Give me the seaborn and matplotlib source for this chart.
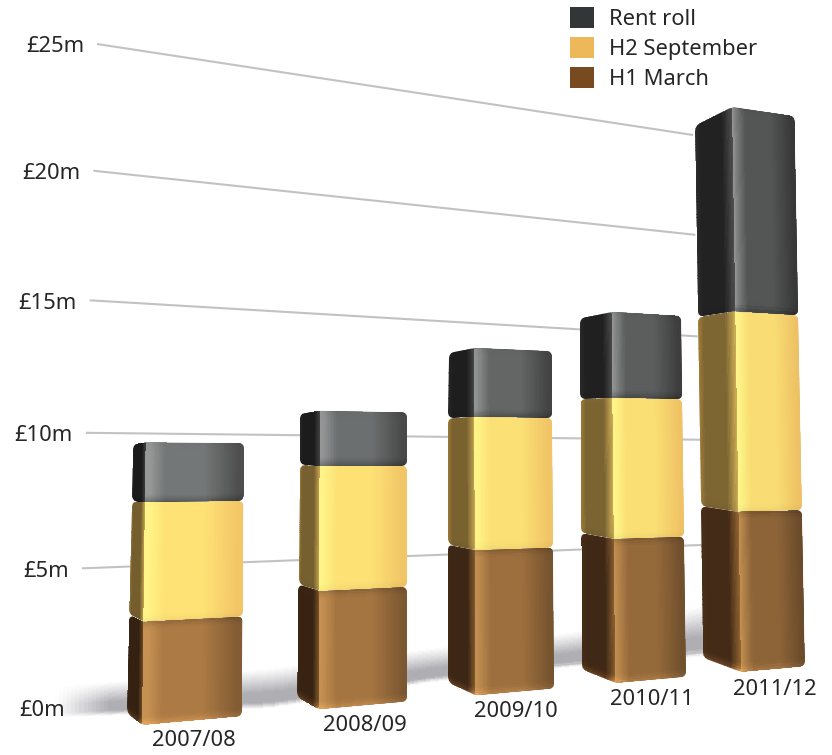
import numpy as np, pandas as pd
import matplotlib
matplotlib.use("Agg")
import matplotlib.pyplot as plt
import seaborn as sns
from matplotlib.transforms import Transform, Affine2D
from matplotlib.path import Path
from matplotlib.patches import Patch

years = ["2007/08", "2008/09", "2009/10", "2010/11", "2011/12"]
h1_march = [3.70, 4.52, 5.89, 6.18, 7.24]
h2_september = [4.32, 4.83, 5.47, 6.12, 9.19]
rent_roll = [2.19, 2.14, 2.86, 3.77, 9.58]
tick_values = [0, 5, 10, 15, 20, 25]
tick_labels = ["£0m", "£5m", "£10m", "£15m", "£20m", "£25m"]

W, H = 832, 755

class Homography(Transform):
    input_dims = output_dims = 2
    is_separable = False
    has_inverse = False
    def __init__(self, src, dst):
        super().__init__()
        A, b = [], []
        for (u, v), (x, y) in zip(src, dst):
            A.append([u, v, 1, 0, 0, 0, -u * x, -v * x]); b.append(x)
            A.append([0, 0, 0, u, v, 1, -u * y, -v * y]); b.append(y)
        self.m = np.append(np.linalg.solve(np.array(A, float), np.array(b, float)), 1).reshape(3, 3)
    def transform_non_affine(self, values):
        values = np.asarray(values, float)
        p = np.c_[values, np.ones(len(values))] @ self.m.T
        return p[:, :2] / p[:, 2:3]

sns.set_theme(style="white")
plt.rcParams["font.family"] = ["Noto Sans", "DejaVu Sans"]
fig = plt.figure(figsize=(W / 100, H / 100), dpi=100)
ax_bg = fig.add_axes([0, 0, 1, 1], zorder=0)
ax = fig.add_axes([0, 0, 1, 1], zorder=1)
ax_top = fig.add_axes([0, 0, 1, 1], zorder=2)
for a_ in (ax_bg, ax, ax_top):
    a_.axis("off")
px = Affine2D().scale(1 / W, -1 / H).translate(0, 1) + fig.transFigure

bw = 0.55
a, b = -bw / 2, 4 - bw / 2
front = Homography([(a, 0), (b, 0), (b, 26), (a, 26)], [(142, 725), (741, 672), (732, 107), (151, 20)])
back = Homography([(a, 0), (b, 0), (b, 26), (a, 26)], [(127, 713), (703, 658), (695, 126), (142, 47)])
ul, ur = -0.6, 4.1
wall = Homography([(ul, 25), (ur, 25), (ur, 0), (ul, 0)], [(97, 44), (693, 135), (705, 652), (78, 707)])
wall_tr = wall + px

# floor shadow (opaque blend on white, so no seams)
n = 160
sx = np.linspace(55, 708, n + 1)
st = np.linspace(0, 1, 41)
base_y = np.interp(sx, [55, 270, 430, 570, 708], [718, 708, 682, 667, 656])
top_y = np.interp(sx, [55, 270, 430, 570, 708], [686, 668, 648, 632, 604])
X = np.outer(sx, np.ones_like(st))
Y = np.outer(base_y, 1 - st) + np.outer(top_y, st)
sm = (st[:-1] + st[1:]) / 2
xm = (sx[:-1] + sx[1:]) / 2
al = np.outer(np.clip((xm - 55) / 55, 0, 1), np.clip(sm / 0.15, 0, 1) * np.clip((1 - sm) / 0.6, 0, 1) ** 1.1) * 0.55
rgb = 1 - al[..., None] * (1 - np.array([0.42, 0.42, 0.46]))
ax_bg.pcolormesh(X, Y, rgb, transform=px, zorder=0.5, shading="flat")

# grid lines and their labels
for v, lab in zip(tick_values, tick_labels):
    start = ul if v > 0 else 2.2
    ax_bg.plot([start, ur], [v, v], transform=wall_tr, color="#c2c2c2", lw=1.5, zorder=1, solid_capstyle="butt")
    ax_top.annotate(lab, xy=(ul, v), xycoords=wall_tr, xytext=(-13, -3), textcoords="offset pixels",
                    ha="right", va="center", fontsize=15.8, color="#262626", zorder=6)

c = lambda r, g, b: np.array([r, g, b]) / 255
style = {
    "H1 March": dict(hi=c(198, 145, 82), mid=c(172, 122, 68), right=c(130, 92, 52),
                     outer=c(56, 36, 18), side=c(52, 33, 18), near=c(110, 76, 38), dim=0.82, top=0.84, bot=1.18, grow=0.3),
    "H2 September": dict(hi=c(255, 244, 135), mid=c(254, 226, 118), right=c(243, 198, 102),
                         outer=c(150, 116, 52), side=c(116, 94, 46), near=c(190, 160, 80), dim=0.98, top=1.0, bot=0.96, grow=0.08),
    "Rent roll": dict(hi=c(150, 152, 152), mid=c(116, 119, 119), right=c(78, 78, 78),
                      outer=c(34, 34, 34), side=c(26, 26, 26), near=c(60, 60, 60), dim=0.72, top=0.97, bot=0.74, grow=0.3),
}
legend_colors = {"Rent roll": "#333636", "H2 September": "#edb85a", "H1 March": "#774a20"}

def rounded(pts, radii):
    verts, codes = [], []
    m = len(pts)
    for i, (p, r) in enumerate(zip(pts, radii)):
        p = np.array(p, float)
        pv = np.array(pts[i - 1], float); nx = np.array(pts[(i + 1) % m], float)
        p1 = p + (pv - p) / np.linalg.norm(pv - p) * r
        p2 = p + (nx - p) / np.linalg.norm(nx - p) * r
        verts += [p1, p, p2]
        codes += [Path.MOVETO if i == 0 else Path.LINETO, Path.CURVE3, Path.CURVE3]
    verts.append(verts[0]); codes.append(Path.CLOSEPOLY)
    return Path(verts, codes)

def shade(st, stops_s, colors, t, bev, top_f, bot_f, dims):
    sm = (st[:-1] + st[1:]) / 2
    tm = (t[:-1] + t[1:]) / 2
    col = np.stack([np.interp(sm, stops_s, [cc[k] * d for cc, d in zip(colors, dims)]) for k in range(3)], -1)
    f = np.ones_like(tm)
    f = np.where(tm < bev, 1 + (bot_f - 1) * (1 - tm / bev) ** 1.5, f)
    f = np.where(tm > 1 - bev, 1 + (top_f - 1) * (1 - (1 - tm) / bev) ** 1.5, f)
    return np.clip(col[:, None, :] * f[None, :, None], 0, 1)

df = {"H1 March": h1_march, "H2 September": h2_september, "Rent roll": rent_roll}
bottoms = np.zeros(len(years))
for name, vals in df.items():
    data = pd.DataFrame({"year": years, "value": vals})
    sns.barplot(data=data, x="year", y="value", color=legend_colors[name], width=bw, ax=ax, errorbar=None)
    st_ = style[name]
    for i, patch in enumerate(ax.containers[-1]):
        patch.set_y(bottoms[i])
        patch.set_edgecolor("none")
        patch.set_transform(front + px)
        x0, x1 = patch.get_x(), patch.get_x() + patch.get_width()
        y0, y1 = patch.get_y(), patch.get_y() + patch.get_height()
        k = 1 + (st_["dim"] - 1) * i / 4
        nt = 60
        t = np.linspace(0, 1, nt + 1)
        vv = y0 + (y1 - y0) * t
        L = back.transform(np.c_[np.full_like(vv, x0), vv])
        C = front.transform(np.c_[np.full_like(vv, x0), vv])
        R = front.transform(np.c_[np.full_like(vv, x1), vv])
        hpx = abs(C[-1, 1] - C[0, 1])
        bev = min(0.3, 9 / hpx)
        clip = rounded([L[0], C[0], R[0], R[-1], C[-1], L[-1]], [6, 5, 6, 6, 5, 6])
        patch.set_clip_path(clip, px)
        # front face
        ss = np.linspace(0, 1, 61)
        Xf = np.outer(C[:, 0], 1 - ss) + np.outer(R[:, 0], ss)
        Yf = np.outer(C[:, 1], 1 - ss) + np.outer(R[:, 1], ss)
        colf = shade(ss, [0, 0.05, 0.2, 0.6, 0.95, 1],
                     [st_["hi"], st_["hi"], st_["mid"], st_["mid"], st_["right"], st_["right"]],
                     t, bev, st_["top"], st_["bot"], [1, k ** 0.5, k, k, k, k])
        m = ax_top.pcolormesh(Xf.T, Yf.T, colf, transform=px, zorder=4, shading="flat")
        m.set_clip_path(clip, px)
        # side face
        ss = np.linspace(0, 1, 31)
        Xs = np.outer(L[:, 0], 1 - ss) + np.outer(C[:, 0], ss)
        Ys = np.outer(L[:, 1], 1 - ss) + np.outer(C[:, 1], ss)
        kk = 1 + st_["grow"] * (i / 4)
        cols = shade(ss, [0, 0.15, 0.72, 1],
                     [st_["outer"], st_["side"], st_["side"], st_["near"]],
                     t, bev, 1.03, 0.95 if name != "H1 March" else 1.7, [kk, kk, kk, kk])
        m = ax_top.pcolormesh(Xs.T, Ys.T, cols, transform=px, zorder=4, shading="flat")
        m.set_clip_path(clip, px)
    bottoms = bottoms + np.array(vals)

ax.set_xlabel(""); ax.set_ylabel("")
front_tr = front + px
for i, lab in enumerate(years):
    ax_top.annotate(lab, xy=(i, 0), xycoords=front_tr, xytext=(1, -20), textcoords="offset pixels",
                    ha="center", va="center", fontsize=15.8, color="#262626", zorder=6)

names = ["Rent roll", "H2 September", "H1 March"]
handles = [Patch(facecolor=legend_colors[n], edgecolor="none") for n in names]
ax_top.legend(handles, names, loc="upper left", bbox_to_anchor=(570 / W, 1 - 7 / H), bbox_transform=fig.transFigure,
              frameon=False, fontsize=15.8, handlelength=1.09, handleheight=1.1, handletextpad=0.68,
              labelspacing=0.32, borderpad=0, borderaxespad=0, labelcolor="#262626")

fig.savefig("out.png", dpi=100)
